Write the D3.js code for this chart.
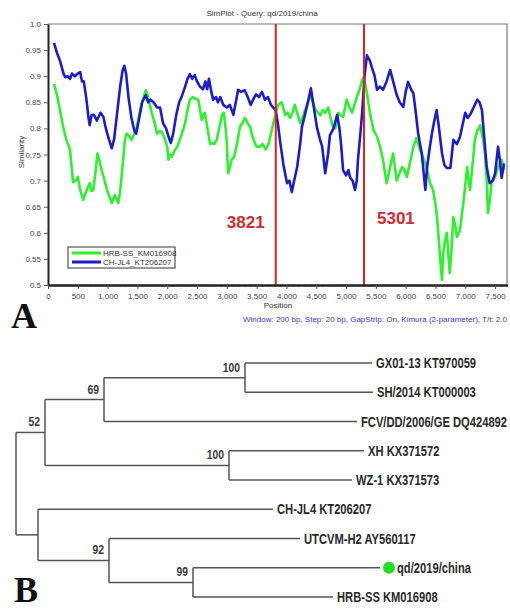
<!DOCTYPE html>
<html>
<head>
<meta charset="utf-8">
<script src="https://cdn.jsdelivr.net/npm/d3@7"></script>
<style>
  body { margin: 0; background: #fff; }
  svg { display: block; }
  .small { font-family: "Liberation Sans", Arial, sans-serif; font-size: 8px; fill: #333; }
</style>
</head>
<body>
<svg width="510" height="610"></svg>
<script>
// ---- panel A data ----
const hrbSS = [[100,0.885],[160,0.86],[200,0.835],[260,0.80],[310,0.778],[370,0.759],[420,0.697],[460,0.70],[500,0.707],[540,0.682],[590,0.663],[650,0.682],[700,0.695],[730,0.68],[760,0.682],[800,0.72],[830,0.752],[870,0.735],[900,0.72],[950,0.70],[990,0.682],[1030,0.67],[1070,0.657],[1120,0.672],[1150,0.665],[1180,0.657],[1210,0.68],[1240,0.714],[1290,0.778],[1320,0.79],[1360,0.785],[1400,0.778],[1450,0.79],[1490,0.803],[1530,0.825],[1570,0.848],[1640,0.873],[1680,0.86],[1740,0.83],[1790,0.81],[1830,0.79],[1870,0.795],[1910,0.793],[1960,0.78],[2000,0.765],[2020,0.74],[2050,0.75],[2080,0.746],[2130,0.759],[2170,0.765],[2210,0.778],[2260,0.795],[2300,0.81],[2340,0.835],[2380,0.855],[2430,0.86],[2470,0.857],[2520,0.855],[2580,0.816],[2630,0.83],[2690,0.79],[2720,0.77],[2750,0.772],[2790,0.77],[2830,0.778],[2880,0.805],[2920,0.826],[2950,0.83],[2980,0.80],[3000,0.772],[3020,0.714],[3050,0.725],[3080,0.74],[3120,0.745],[3170,0.77],[3220,0.803],[3260,0.81],[3300,0.82],[3350,0.81],[3390,0.803],[3430,0.785],[3470,0.772],[3500,0.765],[3550,0.765],[3600,0.77],[3650,0.76],[3700,0.77],[3740,0.79],[3780,0.81],[3820,0.83],[3860,0.845],[3920,0.85],[3980,0.826],[4020,0.83],[4060,0.82],[4100,0.83],[4140,0.845],[4180,0.83],[4230,0.81],[4270,0.82],[4310,0.835],[4360,0.85],[4400,0.864],[4450,0.848],[4490,0.835],[4530,0.83],[4570,0.825],[4610,0.835],[4650,0.83],[4700,0.84],[4740,0.82],[4780,0.803],[4820,0.80],[4870,0.83],[4910,0.825],[4950,0.822],[5010,0.855],[5060,0.84],[5100,0.83],[5140,0.845],[5180,0.86],[5230,0.875],[5270,0.893],[5290,0.898],[5320,0.885],[5350,0.867],[5400,0.83],[5460,0.797],[5520,0.784],[5570,0.765],[5620,0.74],[5680,0.695],[5740,0.726],[5790,0.752],[5850,0.70],[5900,0.715],[5940,0.726],[5980,0.72],[6020,0.707],[6070,0.733],[6130,0.765],[6180,0.781],[6240,0.759],[6290,0.745],[6330,0.733],[6370,0.715],[6410,0.695],[6460,0.682],[6500,0.655],[6530,0.624],[6560,0.58],[6580,0.548],[6610,0.51],[6630,0.561],[6660,0.585],[6690,0.60],[6710,0.567],[6740,0.523],[6770,0.57],[6800,0.63],[6830,0.615],[6860,0.592],[6910,0.605],[6960,0.65],[7000,0.69],[7030,0.726],[7080,0.682],[7130,0.74],[7160,0.778],[7200,0.795],[7250,0.806],[7300,0.778],[7330,0.752],[7360,0.70],[7380,0.638],[7410,0.66],[7440,0.695],[7500,0.707],[7550,0.726],[7610,0.74],[7650,0.72]];

const chJL4 = [[100,0.964],[150,0.945],[200,0.93],[230,0.918],[260,0.905],[290,0.898],[330,0.90],[370,0.895],[400,0.905],[450,0.90],[500,0.905],[540,0.908],[570,0.89],[600,0.89],[640,0.86],[680,0.82],[700,0.806],[730,0.825],[770,0.826],[820,0.815],[880,0.83],[930,0.822],[970,0.80],[1020,0.78],[1070,0.762],[1110,0.78],[1160,0.83],[1210,0.88],[1250,0.91],[1280,0.92],[1310,0.905],[1350,0.86],[1400,0.82],[1450,0.795],[1480,0.79],[1530,0.82],[1580,0.85],[1640,0.864],[1680,0.85],[1720,0.855],[1770,0.85],[1830,0.84],[1880,0.84],[1930,0.81],[1980,0.80],[2020,0.785],[2060,0.772],[2100,0.79],[2150,0.825],[2200,0.85],[2240,0.86],[2300,0.88],[2340,0.895],[2380,0.904],[2420,0.895],[2460,0.902],[2500,0.89],[2550,0.88],[2600,0.875],[2640,0.89],[2670,0.875],[2700,0.895],[2740,0.87],[2770,0.855],[2820,0.86],[2850,0.85],[2890,0.86],[2940,0.845],[3000,0.84],[3050,0.845],[3110,0.826],[3150,0.85],[3190,0.874],[3240,0.87],[3300,0.873],[3350,0.86],[3400,0.845],[3440,0.855],[3490,0.865],[3540,0.86],[3590,0.87],[3640,0.855],[3690,0.86],[3740,0.845],[3780,0.84],[3820,0.835],[3860,0.806],[3900,0.77],[3950,0.73],[4010,0.695],[4050,0.70],[4090,0.678],[4130,0.70],[4180,0.726],[4230,0.77],[4260,0.803],[4310,0.826],[4360,0.85],[4410,0.877],[4460,0.84],[4510,0.803],[4560,0.78],[4600,0.765],[4650,0.714],[4700,0.752],[4730,0.787],[4790,0.80],[4850,0.826],[4890,0.80],[4920,0.765],[4950,0.72],[5000,0.71],[5040,0.72],[5070,0.705],[5110,0.70],[5150,0.682],[5180,0.70],[5200,0.74],[5240,0.79],[5270,0.83],[5310,0.90],[5350,0.94],[5400,0.93],[5430,0.918],[5480,0.90],[5520,0.874],[5570,0.88],[5620,0.874],[5680,0.89],[5740,0.912],[5790,0.89],[5850,0.864],[5900,0.85],[5960,0.841],[6000,0.87],[6040,0.889],[6090,0.875],[6130,0.867],[6170,0.83],[6210,0.79],[6270,0.752],[6330,0.682],[6360,0.726],[6400,0.76],[6440,0.79],[6490,0.82],[6520,0.835],[6560,0.80],[6610,0.752],[6650,0.73],[6690,0.724],[6750,0.724],[6800,0.778],[6860,0.77],[6910,0.783],[6960,0.81],[7000,0.83],[7040,0.82],[7080,0.826],[7140,0.84],[7200,0.855],[7240,0.85],[7280,0.835],[7320,0.78],[7360,0.726],[7410,0.695],[7460,0.70],[7500,0.714],[7550,0.765],[7580,0.74],[7610,0.705],[7650,0.733]];

const breakpoints = [3821, 5301];
const yTicks = [0.5,0.55,0.6,0.65,0.7,0.75,0.8,0.85,0.9,0.95,1.0];
const yTickLabels = ["0.5","0.55","0.6","0.65","0.7","0.75","0.8","0.85","0.9","0.95","1.0"];
const xTicks = [0,500,1000,1500,2000,2500,3000,3500,4000,4500,5000,5500,6000,6500,7000,7500];
const seriesNames = ["HRB-SS_KM016908", "CH-JL4_KT206207"];
const seriesColors = ["#2ef02e", "#1c1cc8"];

// ---- panel B data ----
const leafNames = ["GX01-13 KT970059","SH/2014 KT000003","FCV/DD/2006/GE DQ424892","XH KX371572","WZ-1 KX371573","CH-JL4 KT206207","UTCVM-H2 AY560117","qd/2019/china","HRB-SS KM016908"];
const tree = {len: 0, children: [
  {len: 0.029, boot: "52", children: [
    {len: 0.059, boot: "69", children: [
      {len: 0.141, boot: "100", children: [
        {name: leafNames[0], len: 0.127},
        {name: leafNames[1], len: 0.128}]},
      {name: leafNames[2], len: 0.253}]},
    {len: 0.184, boot: "100", children: [
      {name: leafNames[3], len: 0.135},
      {name: leafNames[4], len: 0.123}]}]},
  {len: 0.022, children: [
    {name: leafNames[5], len: 0.235},
    {len: 0.071, boot: "92", children: [
      {name: leafNames[6], len: 0.191},
      {len: 0.084, boot: "99", children: [
        {name: leafNames[7], len: 0.187},
        {name: leafNames[8], len: 0.140}]}]}]}]};
const queryLeaf = "qd/2019/china";

const svg = d3.select("svg");

// ================= Panel A =================
const x = d3.scaleLinear().domain([0, 7700]).range([48, 507]);
const y = d3.scaleLinear().domain([0.5, 1.0]).range([285, 24]);

svg.append("text").attr("class", "small")
  .attr("x", 262).attr("y", 16).attr("text-anchor", "middle")
  .text("SimPlot - Query: qd/2019/china");

// frame top/right
svg.append("path")
  .attr("d", `M${x(0)},${y(1)}H${x(7700)}V${y(0.5)}`)
  .attr("fill", "none").attr("stroke", "#777").attr("stroke-width", 1.2);

const line = d3.line().x(d => x(d[0])).y(d => y(d[1]));

[hrbSS, chJL4].forEach((s, i) => {
  svg.append("path").datum(s)
    .attr("d", line)
    .attr("fill", "none")
    .attr("stroke", seriesColors[i])
    .attr("stroke-width", 2.6)
    .attr("stroke-linejoin", "round");
});

svg.selectAll(".bp").data(breakpoints).enter().append("line")
  .attr("x1", d => x(d)).attr("x2", d => x(d))
  .attr("y1", y(1)).attr("y2", y(0.5))
  .attr("stroke", "#e3201e").attr("stroke-width", 2);

svg.selectAll(".bpl").data(breakpoints).enter().append("text")
  .attr("x", (d, i) => x(d) + (i === 0 ? -49 : 13))
  .attr("y", (d, i) => i === 0 ? 228 : 224)
  .attr("font-family", "Liberation Sans, Arial, sans-serif")
  .attr("font-weight", "bold").attr("font-size", 17)
  .attr("fill", "#d42a2e")
  .text(d => d);

// axes
const yAxis = svg.append("g").attr("transform", `translate(${x(0)},0)`)
  .call(d3.axisLeft(y).tickValues(yTicks).tickFormat((d, i) => yTickLabels[i]).tickSize(4).tickSizeOuter(0));
const xMinor = svg.append("g").attr("transform", `translate(0,${y(0.5)})`)
  .call(d3.axisBottom(x).tickValues(d3.range(0, 7701, 100)).tickFormat("").tickSize(2).tickSizeOuter(0));
const xAxis = svg.append("g").attr("transform", `translate(0,${y(0.5)})`)
  .call(d3.axisBottom(x).tickValues(xTicks).tickFormat(d3.format(",")).tickSize(4).tickSizeOuter(0));

[yAxis, xAxis, xMinor].forEach(g => {
  g.select(".domain").attr("stroke", "#222").attr("stroke-width", 2);
  g.selectAll(".tick line").attr("stroke", "#555");
  g.selectAll("text").attr("font-family", "Liberation Sans, Arial, sans-serif")
    .attr("font-size", 8).attr("fill", "#444");
});
xAxis.selectAll("text").attr("dy", "0.9em");

svg.append("text").attr("class", "small")
  .attr("transform", "translate(24,152) rotate(-90)")
  .attr("text-anchor", "middle").text("Similarity");
svg.append("text").attr("class", "small")
  .attr("x", 278).attr("y", 308).attr("text-anchor", "middle").text("Position");
svg.append("text").attr("class", "small")
  .attr("x", 507).attr("y", 322).attr("text-anchor", "end")
  .style("fill", "#3636c8")
  .text("Window: 200 bp, Step: 20 bp, GapStrip: On, Kimura (2-parameter), T/t: 2.0");

// legend
const lg = svg.append("g");
lg.append("rect").attr("x", 68).attr("y", 247).attr("width", 107).attr("height", 21)
  .attr("fill", "#fff").attr("stroke", "#555").attr("stroke-width", 1.2);
seriesNames.forEach((n, i) => {
  const ly = 253 + i * 9;
  lg.append("line").attr("x1", 72).attr("x2", 101).attr("y1", ly).attr("y2", ly)
    .attr("stroke", seriesColors[i]).attr("stroke-width", 3);
  lg.append("text").attr("class", "small").attr("x", 103).attr("y", ly + 3).text(n);
});

// panel letters
svg.selectAll(".letter").data([["A", 11, 328], ["B", 14, 602]]).enter().append("text")
  .attr("x", d => d[1]).attr("y", d => d[2])
  .attr("font-family", "Liberation Serif, Times New Roman, serif")
  .attr("font-weight", "bold").attr("font-size", 36).attr("fill", "#111")
  .text(d => d[0]);

// ================= Panel B =================
const root = d3.hierarchy(tree);
root.eachBefore(d => { d.dist = (d.parent ? d.parent.dist : 0) + (d.data.len || 0); });
const tx = d3.scaleLinear().domain([0, 0.4]).range([16, 416]);
const ty = d3.scalePoint().domain(leafNames).range([363, 597]);
root.eachAfter(d => {
  d.py = d.children ? (d.children[0].py + d.children[d.children.length - 1].py) / 2 : ty(d.data.name);
  d.px = tx(d.dist);
});

const tg = svg.append("g").attr("fill", "none").attr("stroke", "#555").attr("stroke-width", 1.5);
root.descendants().forEach(d => {
  if (d.parent) tg.append("path").attr("d", `M${d.parent.px},${d.py}H${d.px}`);
  if (d.children) tg.append("path")
    .attr("d", `M${d.px},${d.children[0].py}V${d.children[d.children.length - 1].py}`);
});

// narrow font look: Arial-like glyphs squeezed horizontally
const narrow = 0.8;
svg.selectAll(".boot").data(root.descendants().filter(d => d.data.boot)).enter().append("text")
  .attr("transform", d => `translate(${d.px - 5},${d.py - 6}) scale(${narrow},1)`)
  .attr("text-anchor", "end")
  .attr("font-family", "Liberation Sans, Arial, sans-serif")
  .attr("font-weight", "bold").attr("font-size", 13).attr("fill", "#3a3a3a")
  .text(d => d.data.boot);

const leaves = root.leaves();
svg.selectAll(".dot").data(leaves.filter(d => d.data.name === queryLeaf)).enter().append("circle")
  .attr("cx", d => d.px + 9).attr("cy", d => d.py).attr("r", 6).attr("fill", "#22e022");
svg.selectAll(".leaf").data(leaves).enter().append("text")
  .attr("transform", d => `translate(${d.px + (d.data.name === queryLeaf ? 17 : 4)},${d.py}) scale(${narrow},1)`)
  .attr("dy", "0.36em")
  .attr("font-family", "Liberation Sans, Arial, sans-serif")
  .attr("font-weight", "bold").attr("font-size", 14).attr("fill", "#2a2a2a")
  .text(d => d.data.name);
</script>
</body>
</html>
